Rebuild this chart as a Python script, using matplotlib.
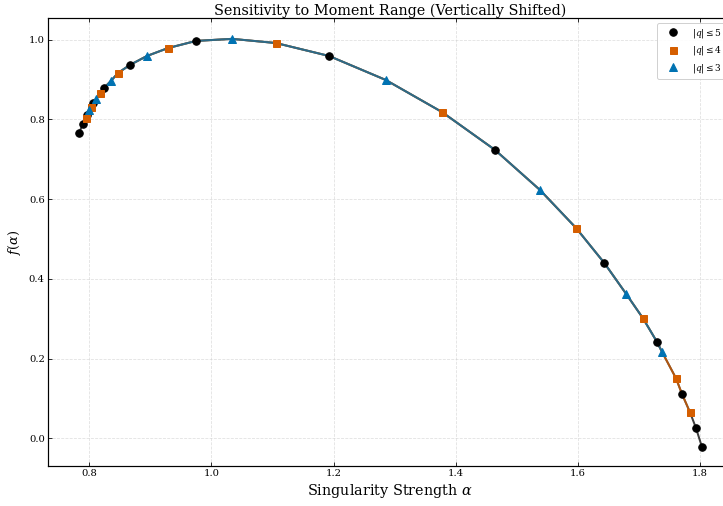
import matplotlib
matplotlib.use("Agg")
import matplotlib.pyplot as plt
import numpy as np

plt.rcParams['font.family'] = ['DejaVu Serif']
plt.rcParams['mathtext.fontset'] = 'dejavuserif'

# |q| <= 5 (black circles)
alpha_q5 = [0.7831, 0.7897, 0.7962, 0.8061, 0.8241, 0.8666, 0.9747, 1.1925,
            1.4643, 1.6433, 1.7296, 1.7705, 1.7934, 1.8032]
f_q5 = [0.7658, 0.7883, 0.8109, 0.8410, 0.8786, 0.9363, 0.9965, 0.9588,
        0.7232, 0.4397, 0.2416, 0.1112, 0.0258, -0.0218]

# |q| <= 4 (orange squares)
alpha_q4 = [0.7946, 0.8028, 0.8175, 0.8470, 0.9289, 1.1057, 1.3775, 1.5970,
            1.7066, 1.7607, 1.7836]
f_q4 = [0.8034, 0.8310, 0.8661, 0.9162, 0.9786, 0.9912, 0.8182, 0.5275,
        0.3010, 0.1505, 0.0652]

# |q| <= 3 (blue triangles)
alpha_q3 = [0.7995, 0.8110, 0.8355, 0.8945, 1.0337, 1.2853, 1.5380, 1.6788, 1.7379]
f_q3 = [0.8234, 0.8510, 0.8962, 0.9588, 1.0017, 0.8987, 0.6227, 0.3627, 0.2164]

labels = [r'$|q|\leq 5$', r'$|q|\leq 4$', r'$|q|\leq 3$']
colors = ['#000000', '#D55E00', '#0072B2']
markers = ['o', 's', '^']
msizes = [7.5, 7, 7.5]

series = [(alpha_q5, f_q5), (alpha_q4, f_q4), (alpha_q3, f_q3)]

# shared spectrum curve: union of all read points, sorted by alpha
all_a = np.concatenate([np.array(a) for a, _ in series])
all_f = np.concatenate([np.array(f) for _, f in series])
order = np.argsort(all_a)
all_a, all_f = all_a[order], all_f[order]

W, H = 723, 506
fig = plt.figure(figsize=(W / 72, H / 72), dpi=72)
left_px, right_px, top_px, bot_px = 48.3, 731.0, 18.0, 466.0
ax = fig.add_axes([left_px / W, (H - bot_px) / H, (right_px - left_px) / W, (bot_px - top_px) / H])

for (a, f), lab, c, m, ms in zip(series, labels, colors, markers, msizes):
    a = np.array(a)
    f = np.array(f)
    mask = (all_a >= a.min() - 1e-9) & (all_a <= a.max() + 1e-9)
    ax.plot(all_a[mask], all_f[mask], '-', color=c, lw=2, alpha=0.75, zorder=2)
    ax.plot(a, f, linestyle='none', marker=m, color=c, markersize=ms, label=lab, zorder=3)

ax.set_xlim(0.8 - (89.3 - left_px) / 610.7, 0.8 + (right_px - 89.3) / 610.7)
ax.set_ylim(-0.0695, 1.054)
ax.set_xticks([0.8, 1.0, 1.2, 1.4, 1.6, 1.8])
ax.set_yticks([0.0, 0.2, 0.4, 0.6, 0.8, 1.0])
ax.tick_params(direction='in', top=True, right=True, labelsize=10, length=4)
ax.grid(True, linestyle='--', color='#cccccc', alpha=0.6, lw=0.8)
for s in ax.spines.values():
    s.set_linewidth(1.2)

ax.set_title('Sensitivity to Moment Range (Vertically Shifted)', fontsize=14.4, pad=3)
ax.set_xlabel(r'Singularity Strength $\alpha$', fontsize=14.4, labelpad=3)
ax.set_ylabel(r'$f(\alpha)$', fontsize=13, labelpad=6)

leg = ax.legend(loc='upper right', fontsize=9, frameon=True, fancybox=True,
                framealpha=0.9, handlelength=2.6, handletextpad=0.85, borderaxespad=0.6)

fig.savefig('out.png', dpi=72)
